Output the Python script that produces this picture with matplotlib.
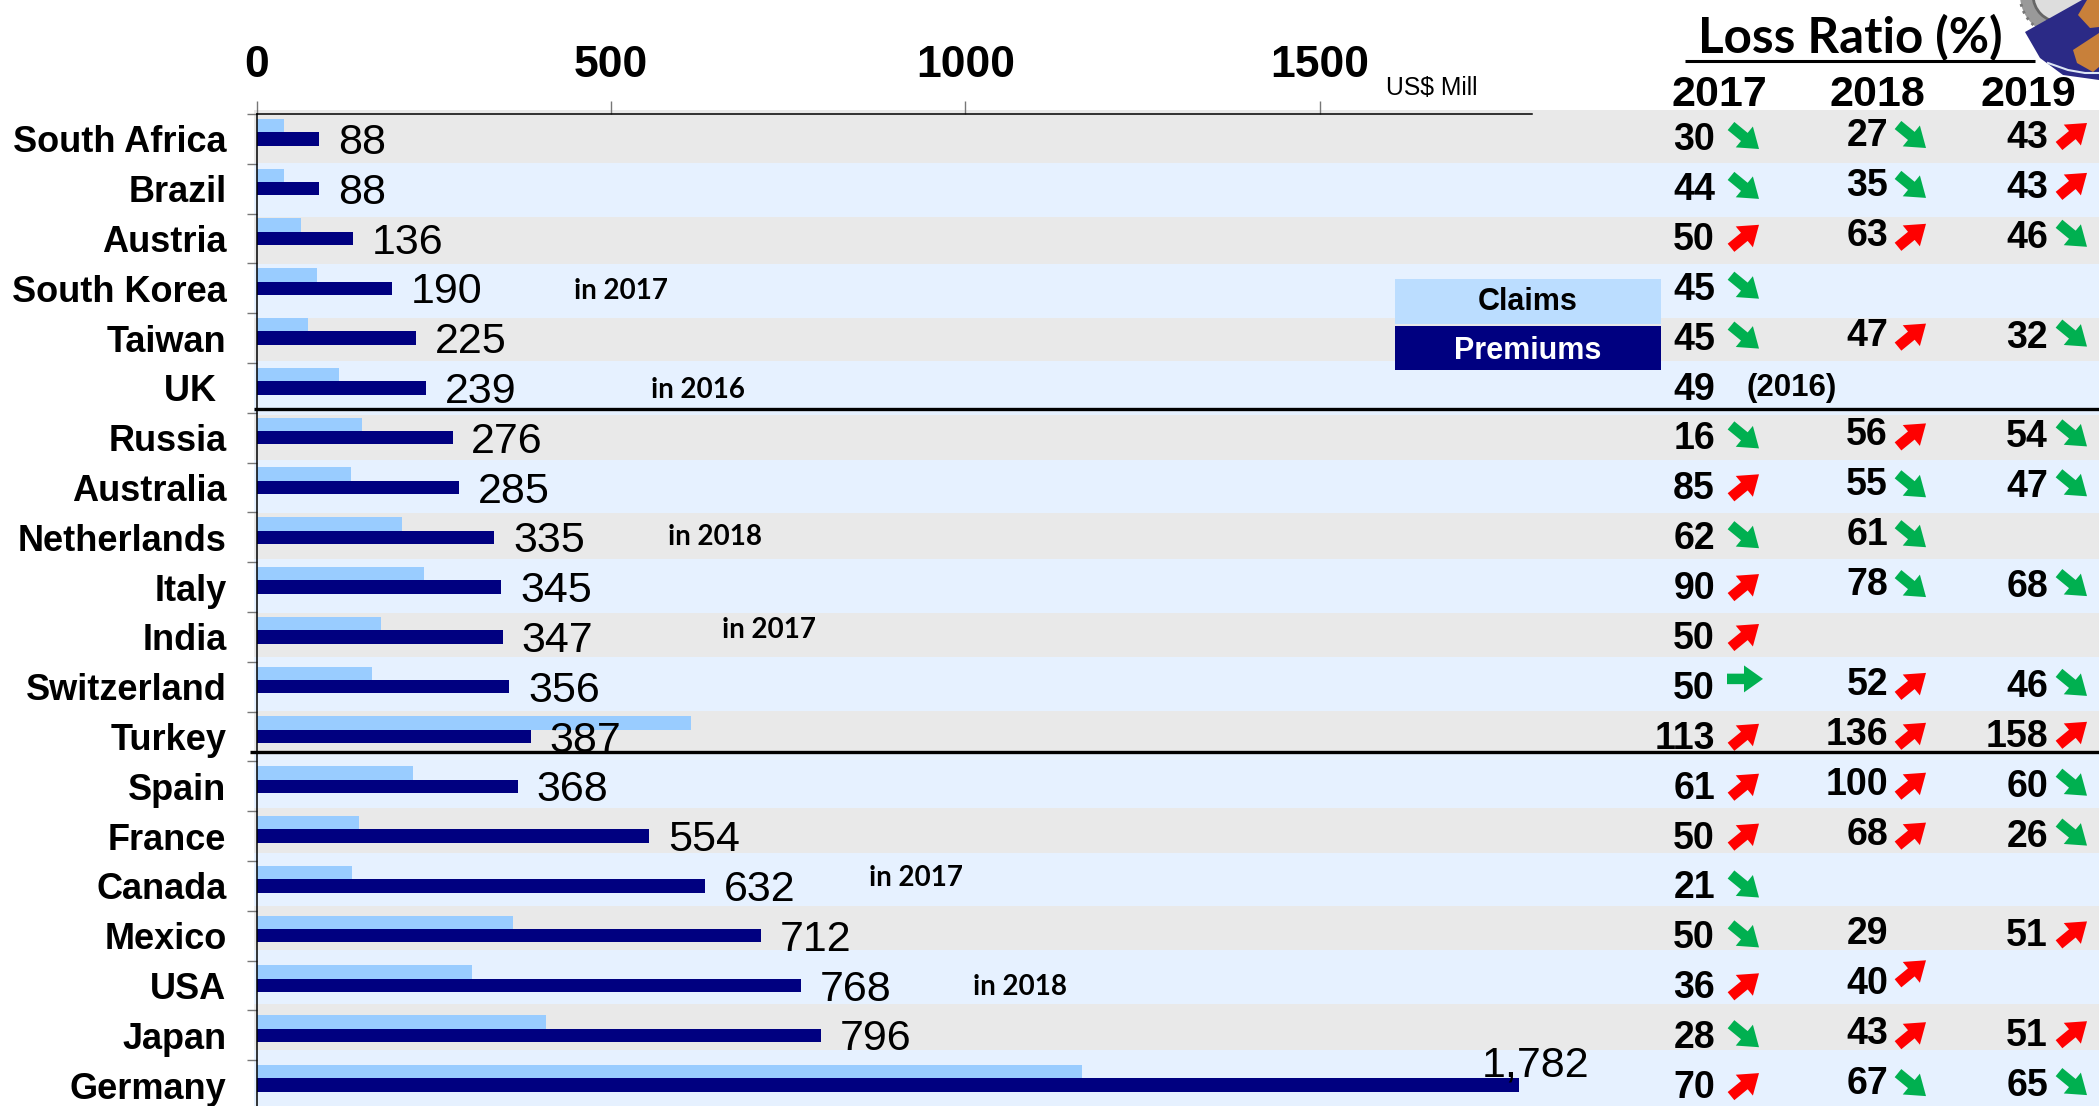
import matplotlib
matplotlib.use('Agg')
import matplotlib.pyplot as plt
from matplotlib.patches import Rectangle, Polygon, Circle

# chart values
countries = ['South Africa', 'Brazil', 'Austria', 'South Korea', 'Taiwan', 'UK ', 'Russia', 'Australia',
             'Netherlands', 'Italy', 'India', 'Switzerland', 'Turkey', 'Spain', 'France', 'Canada',
             'Mexico', 'USA', 'Japan', 'Germany']
premiums = [88, 88, 136, 190, 225, 239, 276, 285, 335, 345, 347, 356, 387, 368, 554, 632, 712, 768, 796, 1782]
claims = [38, 38, 62, 84, 72, 116, 148, 133, 205, 236, 175, 162, 613, 220, 144, 134, 361, 304, 408, 1164]
premium_labels = ['88', '88', '136', '190', '225', '239', '276', '285', '335', '345', '347', '356', '387',
                  '368', '554', '632', '712', '768', '796', '1,782']
xticks = [0, 500, 1000, 1500]

# loss ratios and the trend arrow next to each (d down, u up, r flat, - none)
years = ['2017', '2018', '2019']
ratio_2017 = [30, 44, 50, 45, 45, 49, 16, 85, 62, 90, 50, 50, 113, 61, 50, 21, 50, 36, 28, 70]
ratio_2018 = [27, 35, 63, None, 47, None, 56, 55, 61, 78, None, 52, 136, 100, 68, None, 29, 40, 43, 67]
ratio_2019 = [43, 43, 46, None, 32, None, 54, 47, None, 68, None, 46, 158, 60, 26, None, 51, None, 51, 65]
trend_2017 = list('ddudd-duduuruuuddudu')
trend_2018 = list('ddu-u-uddd-uuuu--uud')
trend_2019 = list('uud-d-dd-d-dudd-u-ud')

# notes beside the bars: text, x px, y px
notes = [('in 2017', 621, 291), ('in 2016', 698, 390), ('in 2018', 715, 537),
         ('in 2017', 769, 630), ('in 2017', 916, 878), ('in 2018', 1020, 987)]

# band edges in px, gray and blue by turns
band_edges = [110, 163, 217, 264, 318, 361, 415, 460, 513, 559, 613, 657, 711, 752, 808, 853, 906, 950,
              1004, 1050, 1106]

W, H = 2099, 1106
GRAY = '#E9E9E9'
BLUE = '#E6F1FF'
LIGHT = '#99CCFF'
NAVY = '#000080'
GREEN = '#00B050'
RED = '#FF0000'
SANS = 'Liberation Sans'

fig = plt.figure(figsize=(W / 100, H / 100), dpi=100)

# background bands
bg = fig.add_axes([0, 0, 1, 1], zorder=0)
bg.set_xlim(0, W)
bg.set_ylim(H, 0)
bg.axis('off')
for i in range(len(band_edges) - 1):
    c = GRAY if i % 2 == 0 else BLUE
    bg.add_patch(Rectangle((254, band_edges[i]), W - 254, band_edges[i + 1] - band_edges[i], fc=c, lw=0))

# bars
ax = fig.add_axes([257 / W, (H - 1110) / H, 1275 / W, 996 / H], zorder=1)
ax.patch.set_visible(False)
rows = list(range(len(countries)))
ax.barh([r - 0.27 for r in rows], claims, height=0.27, color=LIGHT, linewidth=0)
ax.barh(rows, premiums, height=0.27, color=NAVY, linewidth=0)
ax.set_xlim(0, 1800)
ax.set_ylim(19.5, -0.5)
ax.spines['right'].set_visible(False)
ax.spines['bottom'].set_visible(False)
ax.spines['top'].set_linewidth(1.1)
ax.spines['left'].set_linewidth(1.1)
ax.xaxis.tick_top()
ax.set_xticks(xticks)
ax.set_xticklabels([str(v) for v in xticks], fontsize=32, fontweight='bold', family=SANS)
ax.tick_params(axis='x', length=9.4, width=1, color='#777777', pad=11)
ax.set_yticks(rows)
ax.set_yticklabels(countries, fontsize=26, fontweight='bold', family=SANS)
for lab in ax.get_yticklabels():
    lab.set_y(lab.get_position()[1])
ax.set_yticks([r - 0.5 for r in rows] + [19.5], minor=True)
ax.tick_params(axis='y', which='major', length=0, pad=22)
ax.tick_params(axis='y', which='minor', length=7.2, width=1, color='#777777')

for r, v in enumerate(premiums):
    if r == 19:
        ax.annotate(premium_labels[r], (v, r), xytext=(-27, 14), textcoords='offset points',
                    fontsize=31, family=SANS, va='center', annotation_clip=False)
    else:
        ax.annotate(premium_labels[r], (v, r), xytext=(13.5, -3), textcoords='offset points',
                    fontsize=31, family=SANS, va='center', annotation_clip=False)

# everything that sits on pixel positions
top = fig.add_axes([0, 0, 1, 1], zorder=2)
top.set_xlim(0, W)
top.set_ylim(H, 0)
top.axis('off')

top.plot([254, W], [409, 409], color='black', lw=2.4, solid_capstyle='butt')
top.plot([250, W], [752, 752], color='black', lw=2.4, solid_capstyle='butt')

top.text(1386, 88, 'US$ Mill', fontsize=17.8, family=SANS, va='center')
for txt, x, y in notes:
    top.text(x, y, txt, fontsize=20, family='Lato', fontweight='bold', ha='center', va='center')

# legend boxes
top.add_patch(Rectangle((1395, 279), 266, 45, fc='#BBDDFF', lw=0))
top.add_patch(Rectangle((1395, 326), 266, 44, fc=NAVY, lw=0))
top.text(1528, 302, 'Claims', fontsize=22, fontweight='bold', family=SANS, ha='center', va='center')
top.text(1528, 351, 'Premiums', fontsize=22, fontweight='bold', family=SANS, color='white', ha='center', va='center')

# logo in the corner
top.add_patch(Circle((2060, -5), 40, fc='#999999', ec='#777777', lw=2, ls=':'))
top.add_patch(Circle((2060, -5), 27, fc='#DDDDDD', ec='#666666', lw=2))
top.add_patch(Polygon([(2025, 32), (2082, 0), (2099, 0), (2099, 80), (2063, 75), (2040, 58)],
                      fc='#2B2A86', lw=0))
top.add_patch(Polygon([(2087, 0), (2099, 0), (2099, 27), (2090, 28), (2078, 15)], fc='#C8803A', lw=0))
top.add_patch(Polygon([(2099, 33), (2073, 50), (2077, 63), (2093, 72), (2099, 67)], fc='#C8803A', lw=0))
top.plot([2048, 2068, 2085, 2099], [63, 70, 73, 73], color='#DDE6F5', lw=1.5)

# loss ratio table
top.plot([1685, 2035], [61, 61], color='black', lw=2.2, solid_capstyle='butt')
top.text(1850, 38, 'Loss Ratio (%)', fontsize=35.5, fontweight='bold', family='Lato', ha='center', va='center')
for txt, x in zip(years, [1719, 1877, 2028]):
    top.text(x, 95, txt, fontsize=31, fontweight='bold', family=SANS, ha='center', va='center')


def draw_arrow(x, y, kind):
    if kind == 'd':
        x0, y0, x1, y1, c = x - 14, y - 11, x + 14, y + 12, GREEN
    elif kind == 'u':
        x0, y0, x1, y1, c = x - 14, y + 11, x + 14, y - 12, RED
    else:
        x0, y0, x1, y1, c = x - 18, y - 7, x + 18, y - 7, GREEN
    top.arrow(x0, y0, x1 - x0, y1 - y0, width=10.5, head_width=27, head_length=19,
              length_includes_head=True, fc=c, ec='none', lw=0)


columns = [(ratio_2017, trend_2017, 1715, 136, 1745, 1),
           (ratio_2018, trend_2018, 1888, 132, 1912, 4),
           (ratio_2019, trend_2019, 2048, 134, 2073, 1)]
for vals, trends, xr, y0, xa, dy in columns:
    for r, v in enumerate(vals):
        y = y0 + 49.9 * r
        if v is not None:
            top.text(xr, y + 4, str(v), fontsize=27, fontweight='bold', family=SANS, ha='right', va='center')
        if trends[r] != '-':
            shift = -12 if (vals is ratio_2018 and r == 17) else 0
            draw_arrow(xa, y + dy + shift, trends[r])

top.text(1746, 388, '(2016)', fontsize=22.5, fontweight='bold', family=SANS, ha='left', va='center')

fig.savefig('out.png', dpi=100)
